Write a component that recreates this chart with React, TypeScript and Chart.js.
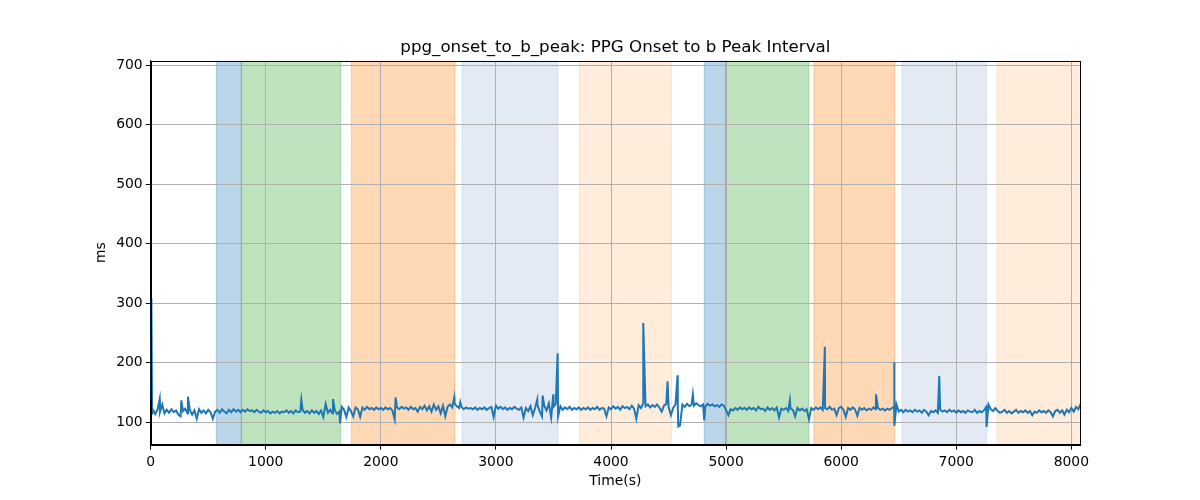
import { useEffect, useRef } from "react";
import { Chart, registerables } from "chart.js";

Chart.register(...registerables);

// baseline reading every 20 s, starting at t = 0
const sampleStep = 20;
const intervalMs = [
  140, 121, 114, 122, 117, 130, 115, 121, 116, 122,
  117, 120, 113, 110, 119, 123, 115, 121, 113, 120,
  106, 122, 116, 120, 115, 121, 117, 106, 118, 121,
  116, 122, 118, 115, 121, 117, 122, 118, 121, 117,
  121, 118, 122, 119, 120, 117, 121, 118, 116, 120,
  117, 119, 115, 118, 116, 119, 115, 118, 117, 120,
  116, 119, 115, 120, 117, 118, 121, 116, 119, 115,
  120, 116, 119, 114, 120, 109, 131, 116, 121, 115,
  120, 114, 118, 126, 121, 109, 125, 119, 110, 125,
  122, 109, 125, 121, 126, 122, 124, 121, 125, 122,
  124, 121, 125, 122, 124, 120, 105, 125, 122, 126,
  123, 125, 121, 126, 122, 124, 118, 126, 122, 128,
  120, 127, 118, 130, 121, 127, 115, 128, 110, 126,
  130, 125, 132, 127, 124, 126, 122, 125, 123, 124,
  122, 125, 121, 124, 122, 125, 121, 124, 126, 109,
  128, 123, 126, 122, 125, 121, 124, 122, 126, 123,
  121, 125, 108, 124, 119, 127, 112, 124, 130, 118,
  110, 127, 120, 132, 108, 126, 131, 110, 127, 121,
  125, 122, 126, 121, 124, 122, 125, 121, 124, 122,
  125, 121, 124, 122, 126, 121, 124, 123, 110, 125,
  122, 127, 123, 126, 121, 127, 124, 126, 122, 128,
  123, 106, 129, 124, 132, 127, 130, 125, 129, 126,
  130, 125, 118, 128, 131, 126, 112, 124, 130, 127,
  95, 130, 126, 131, 127, 130, 128, 132, 129, 127,
  130, 127, 131, 128, 130, 127, 129, 126, 130, 128,
  120, 112, 122, 120, 124, 121, 125, 122, 124, 121,
  125, 122, 124, 120, 126, 122, 123, 119, 125, 121,
  124, 120, 125, 108, 123, 121, 124, 119, 123, 121,
  110, 124, 120, 123, 119, 122, 105, 124, 121, 125,
  122, 125, 121, 124, 122, 126, 121, 123, 112, 124,
  126, 121, 109, 124, 121, 125, 122, 111, 124, 121,
  124, 120, 123, 121, 125, 122, 124, 121, 123, 120,
  123, 121, 124, 126, 130, 118, 121, 117, 121, 118,
  120, 117, 121, 118, 120, 116, 121, 118, 112, 119,
  117, 120, 116, 121, 118, 120, 117, 121, 118, 120,
  116, 120, 117, 119, 116, 120, 118, 117, 121, 116,
  119, 117, 120, 126, 130, 122, 119, 124, 119, 116,
  118, 121, 116, 119, 115, 118, 121, 116, 119, 117,
  120, 116, 119, 112, 118, 116, 120, 117, 119, 116,
  120, 117, 110, 119, 121, 116, 120, 113, 121, 117,
  124, 118, 126, 122, 131,
];

// single-beat outliers (time in s, value in ms)
const spikeTimes = [
  6, 12, 78, 266, 324, 1309, 1584, 1645, 2128, 2638, 2690, 3359, 3406, 3498,
  3536, 3545, 4280, 4491, 4578, 4584, 4711, 4810, 5554, 5858, 6302, 6460,
  6464, 6852, 7263,
];
const spikeValues = [
  308, 113, 139, 137, 143, 138, 139, 98, 142, 142, 134, 138, 145, 147,
  216, 110, 267, 169, 179, 93, 147, 103, 137, 227, 147, 201,
  94, 178, 92,
];

// shaded protocol phases (seconds)
const phaseStart = [570, 787, 1743, 2705, 3724, 4810, 4996, 5763, 6528, 7353];
const phaseEnd = [787, 1651, 2644, 3539, 4526, 4996, 5719, 6466, 7263, 8100];
const phaseColor = [
  "rgba(31,119,180,0.3)",
  "rgba(44,160,44,0.3)",
  "rgba(255,127,14,0.3)",
  "rgba(176,196,222,0.35)",
  "rgba(255,127,14,0.15)",
  "rgba(31,119,180,0.3)",
  "rgba(44,160,44,0.3)",
  "rgba(255,127,14,0.3)",
  "rgba(176,196,222,0.35)",
  "rgba(255,127,14,0.15)",
];

const xTicks = [0, 1000, 2000, 3000, 4000, 5000, 6000, 7000, 8000];
const yTicks = [100, 200, 300, 400, 500, 600, 700];

const phaseBands = {
  id: "phaseBands",
  beforeDraw(chart: Chart) {
    const { ctx, chartArea, scales } = chart;
    ctx.save();
    ctx.beginPath();
    ctx.rect(chartArea.left, chartArea.top, chartArea.width, chartArea.height);
    ctx.clip();
    phaseStart.forEach((start, i) => {
      const x0 = scales.x.getPixelForValue(start);
      const x1 = scales.x.getPixelForValue(phaseEnd[i]);
      ctx.fillStyle = phaseColor[i];
      ctx.fillRect(x0, chartArea.top, x1 - x0, chartArea.height);
      ctx.strokeStyle = phaseColor[i];
      ctx.lineWidth = 1;
      ctx.strokeRect(x0, chartArea.top, x1 - x0, chartArea.height);
    });
    ctx.restore();
  },
  afterDraw(chart: Chart) {
    const { ctx, chartArea } = chart;
    ctx.save();
    ctx.strokeStyle = "#000";
    ctx.lineWidth = 1;
    ctx.strokeRect(
      Math.round(chartArea.left) + 0.5,
      Math.round(chartArea.top) + 0.5,
      Math.round(chartArea.width),
      Math.round(chartArea.height)
    );
    ctx.restore();
  },
};

export default function App() {
  const chartRef = useRef<HTMLCanvasElement>(null);
  const chartInstance = useRef<Chart | null>(null);

  useEffect(() => {
    if (!chartRef.current) return;
    if (chartInstance.current) chartInstance.current.destroy();

    const ctx = chartRef.current.getContext("2d");
    if (!ctx) return;

    Chart.defaults.font.family = "'DejaVu Sans', sans-serif";
    Chart.defaults.color = "#000";

    const points = intervalMs.map((v, i) => ({ x: i * sampleStep, y: v }));
    spikeTimes.forEach((t, i) => points.push({ x: t, y: spikeValues[i] }));
    points.sort((a, b) => a.x - b.x);

    chartInstance.current = new Chart(ctx, {
      type: "line",
      data: {
        datasets: [{
          data: points,
          borderColor: "#1f77b4",
          borderWidth: 2,
          pointRadius: 0,
          tension: 0,
        }],
      },
      plugins: [phaseBands],
      options: {
        animation: false,
        responsive: true,
        maintainAspectRatio: false,
        layout: { padding: { left: 0, right: 120, top: 0, bottom: 0 } },
        scales: {
          x: {
            type: "linear",
            min: 0,
            max: 8075,
            afterBuildTicks: (scale) => {
              scale.ticks = xTicks.map((value) => ({ value }));
            },
            afterFit: (scale) => { scale.height = 55.3; },
            ticks: {
              font: { size: 13.9 },
              padding: 4,
              maxRotation: 0,
              autoSkip: false,
              callback: (value) => String(value),
            },
            grid: { color: "#b0b0b0", tickColor: "#000", tickLength: 5, lineWidth: 1 },
            border: { color: "#000" },
            title: { display: true, text: "Time(s)", font: { size: 13.9 }, padding: { top: 0, bottom: 10.7 } },
          },
          y: {
            min: 62.4,
            max: 707.7,
            afterBuildTicks: (scale) => {
              scale.ticks = yTicks.map((value) => ({ value }));
            },
            afterFit: (scale) => { scale.width = 150.7; },
            ticks: { font: { size: 13.9 }, padding: 3 },
            grid: { color: "#b0b0b0", tickColor: "#000", tickLength: 5, lineWidth: 1 },
            border: { color: "#000" },
            title: { display: true, text: "ms", font: { size: 13.9 }, padding: { top: 92.7, bottom: 0 } },
          },
        },
        plugins: {
          legend: { display: false },
          tooltip: { enabled: false },
          title: {
            display: true,
            text: "ppg_onset_to_b_peak: PPG Onset to b Peak Interval",
            fullSize: false,
            font: { size: 16.7, weight: "normal" },
            padding: { top: 38, bottom: 2.7 },
          },
        },
      },
    });

    return () => {
      if (chartInstance.current) {
        chartInstance.current.destroy();
        chartInstance.current = null;
      }
    };
  }, []);

  return (
    <div style={{ position: "fixed", left: 0, top: 0, width: 1200, height: 500, background: "#fff" }}>
      <canvas ref={chartRef} />
    </div>
  );
}
